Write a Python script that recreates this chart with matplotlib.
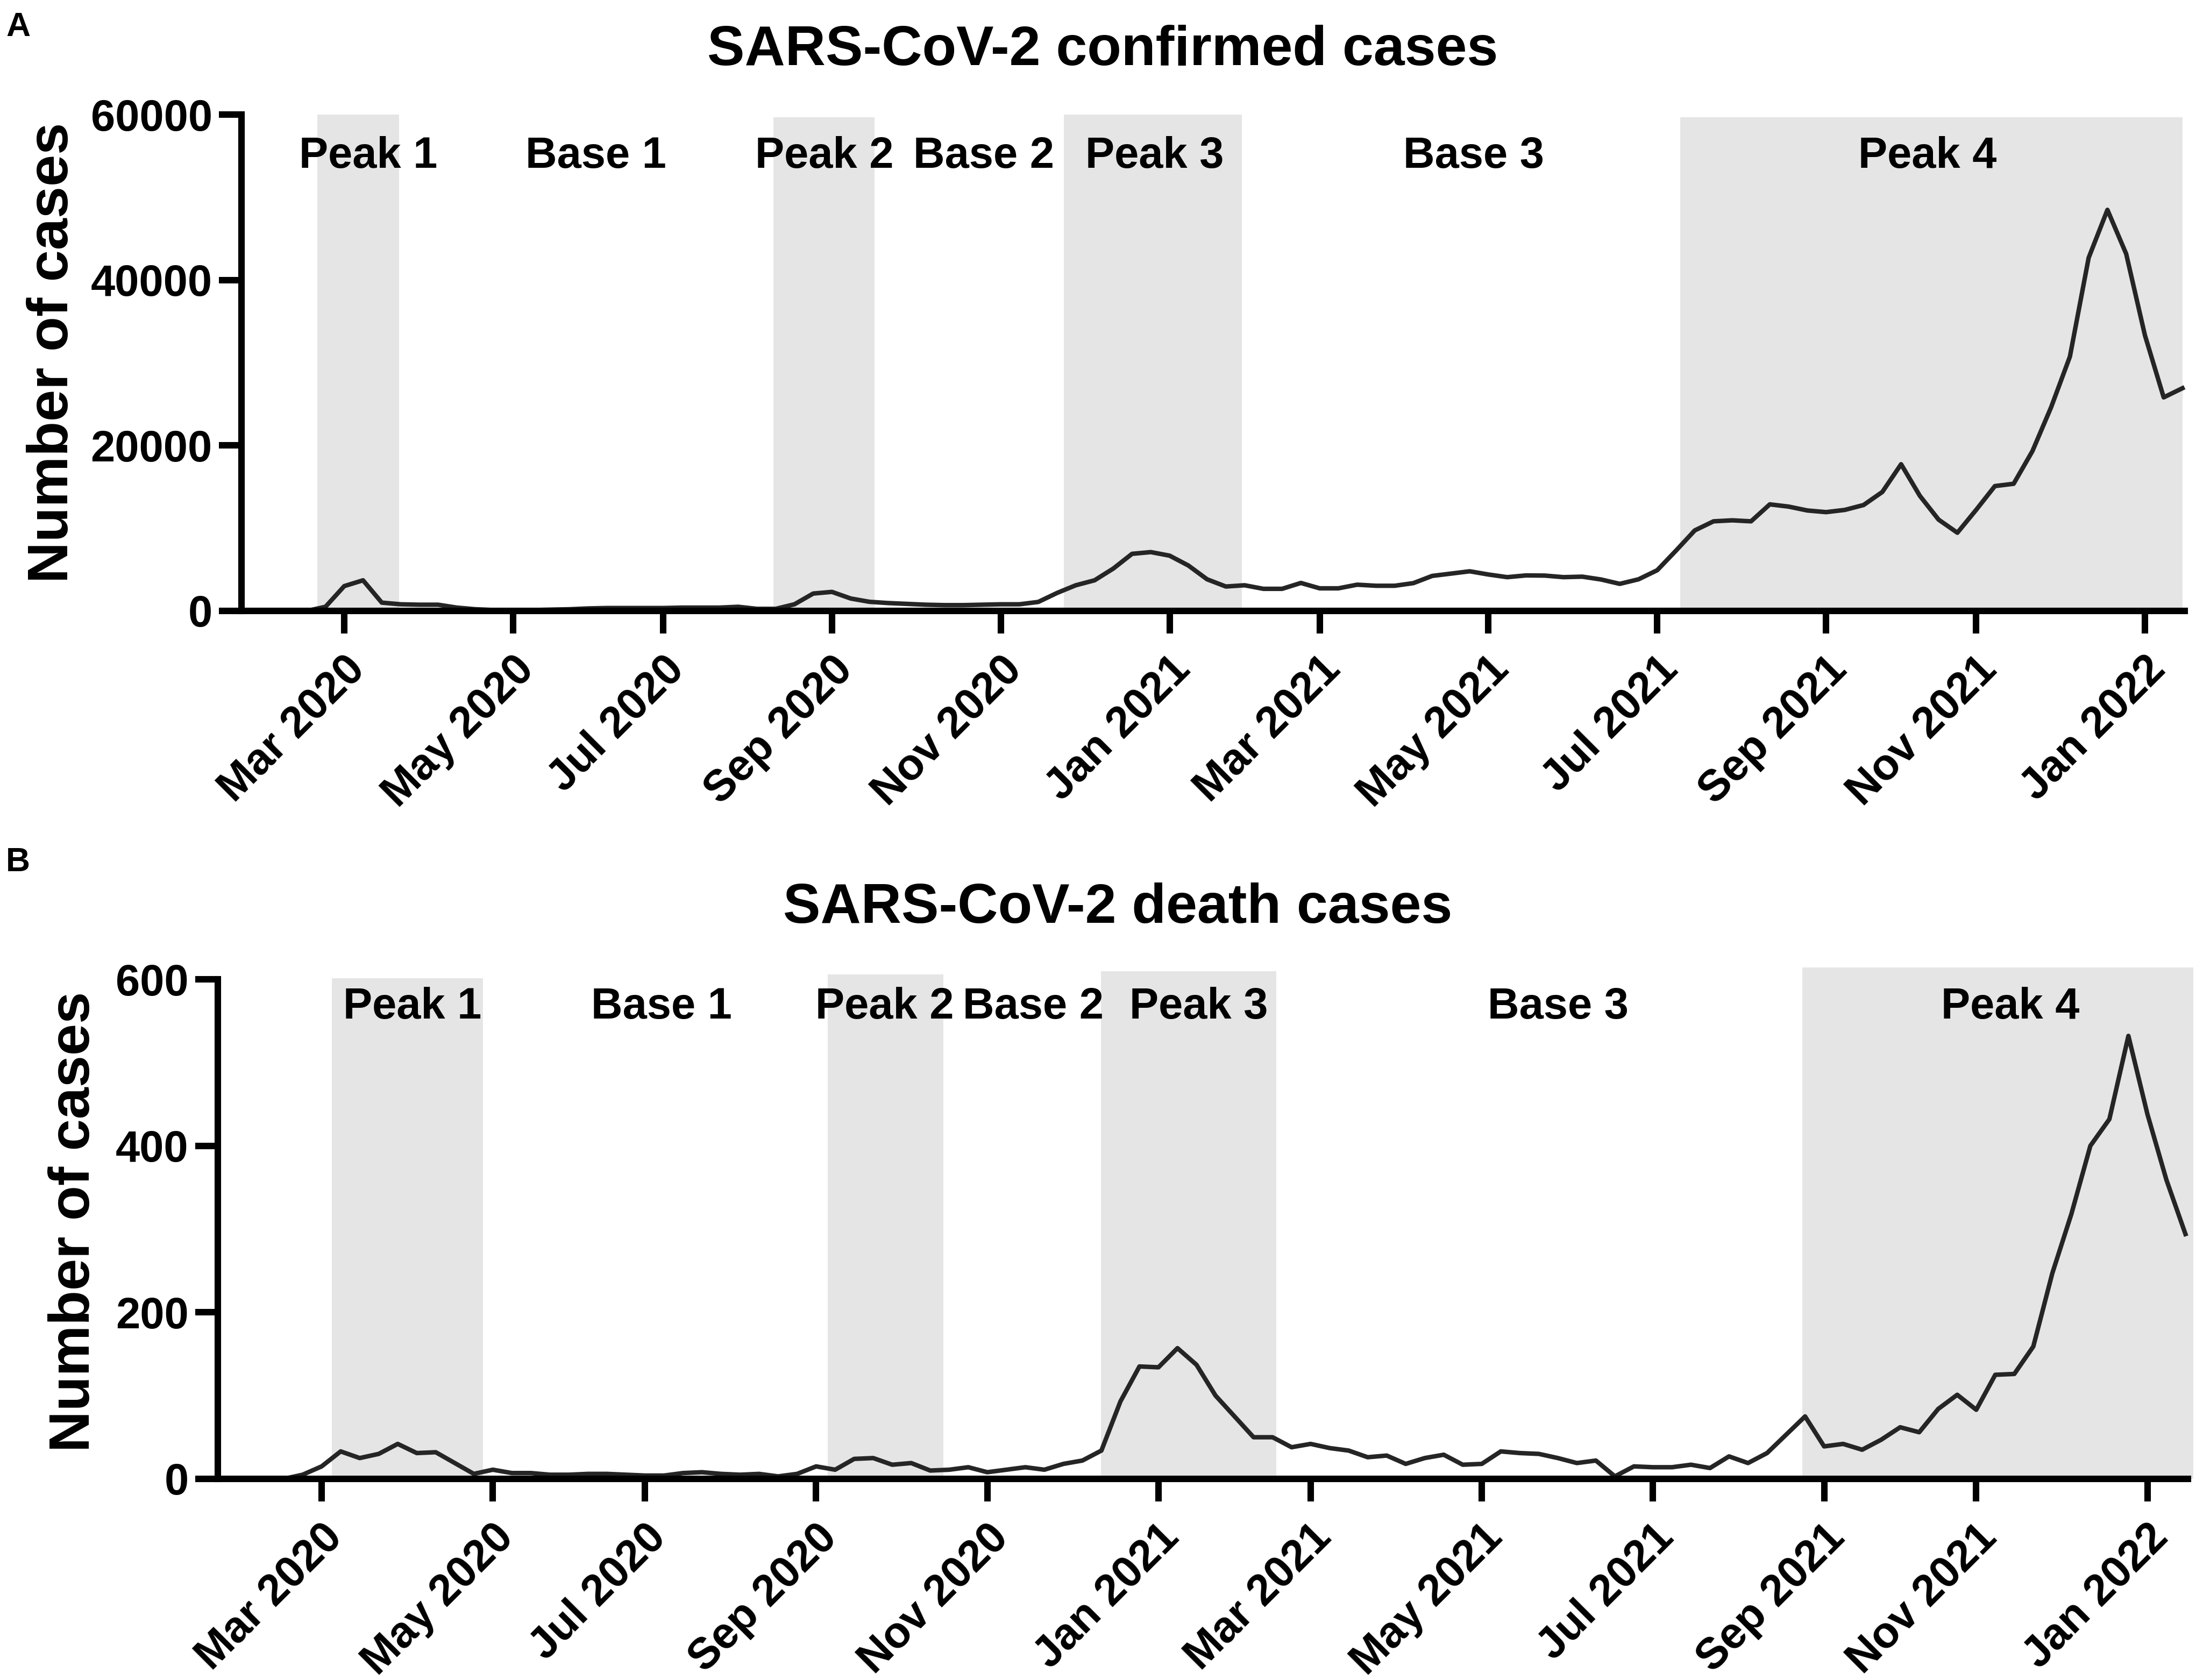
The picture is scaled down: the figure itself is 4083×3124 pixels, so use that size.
import numpy as np
import matplotlib
matplotlib.use('Agg')
import matplotlib.pyplot as plt
from matplotlib.transforms import ScaledTranslation

plt.rcParams['font.family'] = ['Liberation Sans', 'DejaVu Sans']
plt.rcParams['font.weight'] = 'bold'

# weekly index, week 0 = first week of Mar 2020
weeks = np.arange(-5, 99)

confirmed = [0, 0, 0, 0, 500, 3000, 3700, 1000, 800, 750,
             750, 400, 200, 100, 100, 100, 150, 200, 300, 350,
             350, 350, 350, 400, 400, 400, 500, 250, 250, 800,
             2100, 2300, 1500, 1100, 950, 850, 750, 700, 700, 750,
             800, 800, 1085, 2170, 3100, 3700, 5120, 6900, 7110, 6680,
             5490, 3820, 2950, 3100, 2670, 2670, 3380, 2730, 2730, 3170,
             3040, 3040, 3360, 4230, 4510, 4790, 4400, 4080, 4290, 4270,
             4080, 4140, 3800, 3270, 3820, 4920, 7290, 9730, 10830, 10950,
             10830, 12880, 12610, 12140, 11940, 12210, 12800, 14380, 17730, 13910,
             11030, 9450, 12210, 15090, 15370, 19310, 24630, 30740, 42690, 48480,
             43160, 33310, 25810, 26920]

deaths = [0, 0, 0, 0, 5, 15, 33, 25, 30, 42,
          31, 32, 19, 6, 11, 7, 7, 5, 5, 6,
          6, 5, 4, 4, 7, 8, 6, 5, 6, 3,
          6, 15, 11, 24, 25, 17, 19, 10, 11, 14,
          8, 11, 14, 11, 18, 22, 34, 93, 135, 134,
          157, 137, 100, 75, 50, 50, 38, 42, 37, 34,
          26, 28, 18, 25, 29, 17, 18, 33, 31, 30,
          25, 19, 22, 3, 15, 14, 14, 17, 13, 27,
          19, 31, 53, 75, 39, 42, 35, 47, 62, 56,
          84, 101, 83, 125, 126, 159, 247, 318, 400, 432,
          532, 438, 359, 294]

tick_weeks = [0, 9, 17, 26, 35, 44, 52, 61, 70, 79, 87, 96]
tick_labels = ['Mar 2020', 'May 2020', 'Jul 2020', 'Sep 2020', 'Nov 2020',
               'Jan 2021', 'Mar 2021', 'May 2021', 'Jul 2021', 'Sep 2021',
               'Nov 2021', 'Jan 2022']

period_names = ['Peak 1', 'Base 1', 'Peak 2', 'Base 2', 'Peak 3', 'Base 3', 'Peak 4']

# shaded peak periods (start week, end week, top)
peaks_confirmed = [(-1.45, 2.92, 60000), (22.87, 28.27, 59700),
                   (38.37, 47.86, 60000), (71.23, 98.0, 59700)]
peaks_deaths = [(0.53, 8.48, 601), (26.6, 32.7, 606),
                (40.98, 50.2, 610), (77.86, 98.4, 614)]

label_x_confirmed = [1.29, 13.42, 25.6, 34.1, 43.2, 60.2, 84.4]
label_x_deaths = [4.77, 17.87, 29.6, 37.4, 46.1, 65.0, 88.8]

W, H = 4083, 3124
dpi = 300
fig = plt.figure(figsize=(W / dpi, H / dpi), dpi=dpi)

shade = '#e5e5e5'
linec = '#252525'
shift = ScaledTranslation(-32 / dpi, 0, fig.dpi_scale_trans)


def setup(ax, y, peaks, lab_x, lab_y, ymax, yticks, xlim):
    for x0, x1, top in peaks:
        ax.fill_between([x0, x1], 0, top, color=shade, lw=0, zorder=0, clip_on=False)
    ax.plot(weeks, y, color=linec, lw=2.0, zorder=3, clip_on=False)
    for name, xx in zip(period_names, lab_x):
        ax.text(xx, lab_y, name, ha='center', va='baseline', fontsize=19.5,
                fontweight='bold', zorder=4)
    ax.set_xlim(*xlim)
    ax.set_ylim(0, ymax)
    ax.set_yticks(yticks)
    ax.set_yticklabels([str(t) for t in yticks])
    ax.set_xticks(tick_weeks)
    ax.set_xticklabels(tick_labels, rotation=45, ha='right', va='top',
                       rotation_mode='anchor')
    for lab in ax.get_xticklabels():
        lab.set_transform(lab.get_transform() + shift)
    for s in ['top', 'right']:
        ax.spines[s].set_visible(False)
    for s in ['left', 'bottom']:
        ax.spines[s].set_linewidth(2.9)
        ax.spines[s].set_zorder(5)
    ax.tick_params(axis='both', width=2.9, length=10, labelsize=19.5)
    ax.tick_params(axis='y', pad=3)
    ax.tick_params(axis='x', pad=7, labelsize=19.5)
    ax.patch.set_visible(False)


ax1 = fig.add_axes([449 / W, 1 - 1136 / H, (4062 - 449) / W, (1136 - 213) / H])
setup(ax1, confirmed, peaks_confirmed, label_x_confirmed, 53590, 60000,
      [0, 20000, 40000, 60000], (-5.48, 98.12))

ax2 = fig.add_axes([405 / W, 1 - 2750 / H, (4068 - 405) / W, (2750 - 1821) / H])
setup(ax2, deaths, peaks_deaths, label_x_deaths, 553, 600,
      [0, 200, 400, 600], (-5.46, 98.13))

fig.text(2050 / W, 1 - 121 / H, 'SARS-CoV-2 confirmed cases', ha='center',
         va='baseline', fontsize=25, fontweight='bold')
fig.text(2078 / W, 1 - 1716 / H, 'SARS-CoV-2 death cases', ha='center',
         va='baseline', fontsize=25, fontweight='bold')

fig.text(99 / W, 1 - 656 / H, 'Number of cases', rotation=90, ha='center',
         va='center', fontsize=25.5, fontweight='bold')
fig.text(139 / W, 1 - 2272 / H, 'Number of cases', rotation=90, ha='center',
         va='center', fontsize=25.5, fontweight='bold')

fig.text(11 / W, 1 - 67 / H, 'A', ha='left', va='baseline', fontsize=15, fontweight='bold')
fig.text(11 / W, 1 - 1620 / H, 'B', ha='left', va='baseline', fontsize=15, fontweight='bold')

fig.savefig('out.png', dpi=dpi, facecolor='white')
